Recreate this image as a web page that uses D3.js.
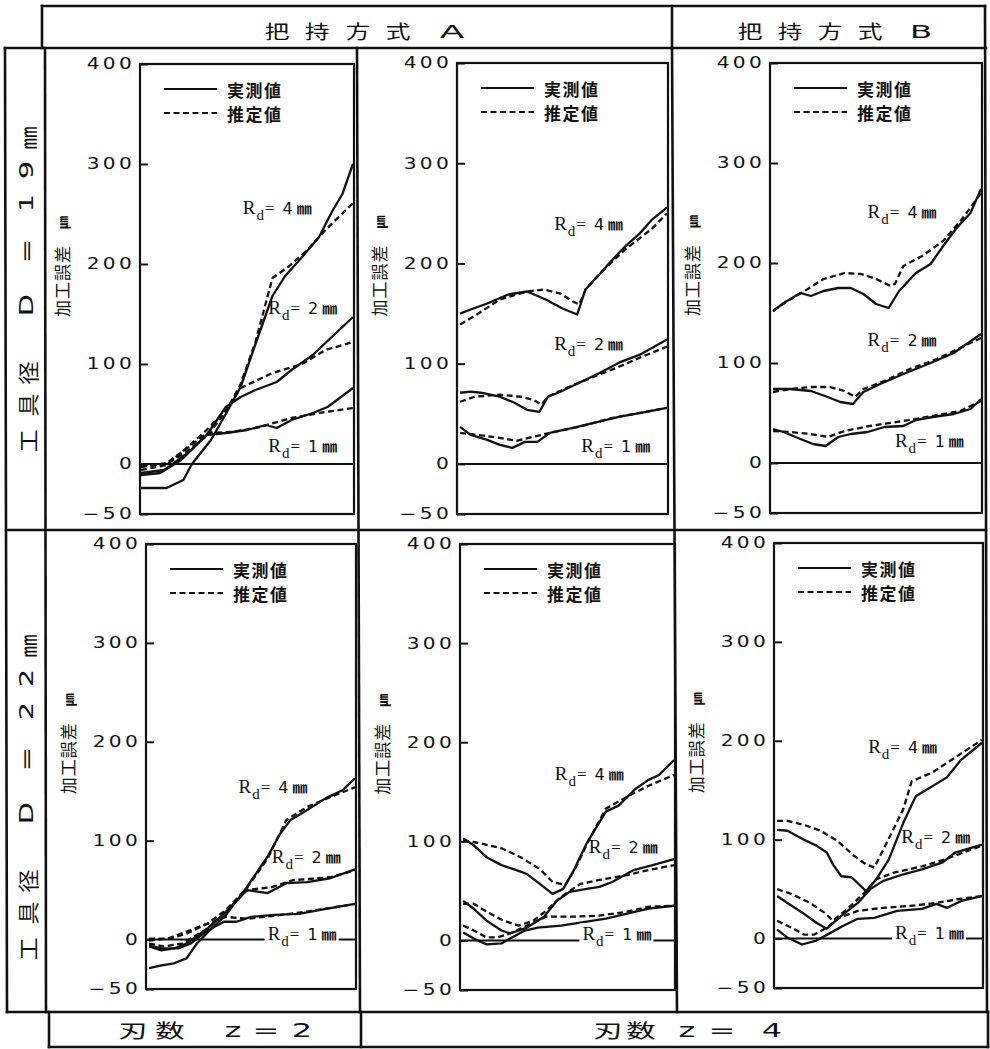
<!DOCTYPE html>
<html lang="ja">
<head>
<meta charset="utf-8">
<title>加工誤差 — 把持方式・工具径・刃数</title>
<script src="https://cdn.jsdelivr.net/npm/d3@7/dist/d3.min.js"></script>
<style>
  html, body { margin: 0; padding: 0; background: #fff; }
  svg { display: block; }
</style>
</head>
<body>
<svg id="chart" width="990" height="1049"></svg>
<script>
// ---------------- data ----------------
// x: position along the cut (0–100 % of the panel), y: 加工誤差 [µm]
const xDomain = [0, 100];
const yDomain = [-50, 400];
const yTicks = [-50, 0, 100, 200, 300, 400];
const rdValues = [4, 2, 1];                 // R_d [mm], order of the curve pairs below
const legendNames = ["実測値", "推定値"];
const yAxisTitle = "加工誤差";
const yAxisUnit = "㎛";
const headChars = [["把", "持", "方", "式", "A"], ["把", "持", "方", "式", "B"]];
const rowChars = [["工", "具", "径", "D", "=", "1", "9", "㎜"], ["工", "具", "径", "D", "=", "2", "2", "㎜"]];
const footChars = [["刃", "数", "z", "=", "2"], ["刃", "数", "z", "=", "4"]];

// 把持方式 A, D = 19 mm, z = 2
const a19z2_r4_meas = [[0,-24],[12,-24],[20,-16],[24,0],[33,24],[40,50],[47,77],[54,120],[62,168],[68,188],[76,207],[84,227],[90,252],[95,270],[100,300]];
const a19z2_r4_est  = [[0,-2],[12,0],[20,10],[31,28],[40,52],[47,80],[54,122],[62,186],[70,198],[78,213],[87,234],[100,261]];
const a19z2_r2_meas = [[0,-11],[9,-9],[19,4],[31,29],[40,57],[47,67],[54,74],[64,82],[71,94],[81,109],[90,127],[100,147]];
const a19z2_r2_est  = [[0,-6],[12,-1],[22,17],[31,34],[40,54],[47,76],[62,91],[76,100],[87,114],[100,122]];
const a19z2_r1_meas = [[0,-9],[11,-6],[22,11],[31,29],[40,31],[50,34],[59,39],[64,36],[71,44],[81,51],[88,57],[100,76]];
const a19z2_r1_est  = [[0,-3],[12,1],[22,16],[31,31],[43,32],[56,37],[71,46],[87,52],[100,56]];

// 把持方式 A, D = 19 mm, z = 4
const a19z4_r4_meas = [[1,150],[6,154],[14,160],[24,169],[33,172],[42,164],[50,155],[57,149],[61,174],[68,190],[74,204],[80,217],[87,230],[93,244],[100,256]];
const a19z4_r4_est  = [[1,139],[9,149],[20,164],[33,172],[41,174],[49,170],[55,162],[58,159],[61,174],[68,190],[80,214],[93,235],[100,250]];
const a19z4_r2_meas = [[1,71],[6,72],[11,71],[20,67],[27,61],[33,54],[39,52],[43,67],[49,72],[58,81],[68,91],[77,101],[87,109],[93,116],[100,124]];
const a19z4_r2_est  = [[1,62],[8,67],[20,69],[30,67],[36,64],[40,59],[43,67],[52,76],[65,87],[76,96],[87,106],[100,117]];
const a19z4_r1_meas = [[1,37],[6,29],[14,24],[20,19],[26,16],[32,22],[38,22],[44,31],[55,36],[65,41],[77,47],[90,52],[100,56]];
const a19z4_r1_est  = [[1,31],[9,29],[20,26],[28,23],[36,27],[46,32],[58,37],[74,46],[90,52],[100,56]];

// 把持方式 B, D = 19 mm, z = 4
const b19z4_r4_meas = [[1,152],[6,160],[14,170],[19,167],[25,172],[32,175],[38,175],[44,169],[50,159],[56,155],[61,172],[69,190],[76,199],[82,217],[88,234],[95,250],[100,274]];
const b19z4_r4_est  = [[1,152],[8,162],[16,172],[25,184],[35,190],[43,189],[50,184],[57,177],[59,179],[63,197],[72,207],[82,222],[91,244],[100,270]];
const b19z4_r2_meas = [[1,74],[9,74],[19,72],[27,66],[33,61],[39,59],[44,71],[52,79],[63,89],[76,100],[87,110],[100,129]];
const b19z4_r2_est  = [[1,71],[9,74],[19,76],[28,76],[35,72],[40,66],[44,74],[54,82],[66,94],[79,104],[90,115],[100,125]];
const b19z4_r1_meas = [[1,34],[6,31],[14,24],[20,19],[26,17],[32,26],[38,29],[46,31],[54,36],[63,37],[69,43],[77,46],[87,49],[95,54],[100,64]];
const b19z4_r1_est  = [[1,32],[9,31],[19,29],[27,26],[35,32],[47,37],[63,42],[77,47],[90,52],[100,62]];

// 把持方式 A, D = 22 mm, z = 2
const a22z2_r4_meas = [[1,-29],[7,-26],[13,-24],[19,-19],[24,-4],[31,11],[38,25],[48,53],[58,84],[64,107],[69,121],[77,131],[86,143],[94,151],[100,163]];
const a22z2_r4_est  = [[1,1],[11,1],[19,6],[29,16],[38,30],[48,52],[58,82],[67,121],[77,134],[88,144],[100,154]];
const a22z2_r2_meas = [[1,-7],[7,-11],[13,-9],[19,-4],[29,11],[38,28],[48,50],[58,47],[67,57],[77,58],[88,62],[100,71]];
const a22z2_r2_est  = [[1,-4],[8,-7],[17,-4],[29,11],[38,28],[48,50],[60,53],[70,60],[88,63],[100,70]];
const a22z2_r1_meas = [[1,-6],[7,-9],[15,-9],[21,-4],[29,9],[37,18],[43,18],[50,23],[61,25],[73,26],[86,31],[100,36]];
const a22z2_r1_est  = [[1,-1],[10,1],[19,8],[29,16],[38,23],[48,21],[61,24],[76,28],[100,36]];

// 把持方式 A, D = 22 mm, z = 4
const a22z4_r4_meas = [[1,103],[6,96],[12,84],[19,76],[26,71],[31,67],[37,57],[43,47],[48,52],[53,71],[59,98],[68,130],[74,136],[82,153],[88,162],[93,167],[100,182]];
const a22z4_r4_est  = [[1,101],[9,98],[19,93],[28,84],[37,72],[43,59],[49,56],[54,74],[60,101],[68,133],[78,145],[87,155],[100,167]];
const a22z4_r2_meas = [[1,40],[6,32],[12,20],[19,10],[23,7],[31,13],[39,24],[45,40],[51,49],[59,52],[65,54],[71,59],[81,71],[90,76],[100,82]];
const a22z4_r2_est  = [[1,37],[6,37],[12,29],[20,20],[27,15],[34,20],[40,30],[47,44],[56,57],[65,61],[78,66],[88,71],[100,76]];
const a22z4_r1_meas = [[1,8],[6,2],[12,-4],[19,-3],[23,2],[30,10],[36,13],[47,15],[59,19],[68,22],[78,27],[88,32],[100,35]];
const a22z4_r1_est  = [[1,15],[6,10],[12,3],[17,3],[23,7],[31,15],[40,24],[53,24],[65,25],[78,29],[88,34],[100,35]];

// 把持方式 B, D = 22 mm, z = 4
const b22z4_r4_meas = [[1,110],[6,109],[14,100],[20,94],[25,87],[28,75],[32,63],[37,62],[44,48],[49,60],[55,80],[62,117],[68,144],[76,154],[83,163],[90,181],[100,198]];
const b22z4_r4_est  = [[1,119],[6,119],[14,115],[22,109],[30,99],[38,84],[44,75],[48,72],[54,97],[62,131],[66,159],[76,168],[87,183],[100,201]];
const b22z4_r2_meas = [[1,43],[6,36],[14,25],[20,16],[25,10],[32,23],[40,36],[46,50],[52,58],[62,65],[71,70],[81,77],[87,87],[100,95]];
const b22z4_r2_est  = [[1,50],[8,45],[17,36],[24,26],[28,18],[35,30],[43,46],[49,60],[58,67],[71,73],[82,80],[100,94]];
const b22z4_r1_meas = [[1,9],[6,1],[13,-6],[20,-2],[27,6],[33,13],[40,20],[48,21],[59,28],[71,30],[78,35],[83,31],[90,38],[100,43]];
const b22z4_r1_est  = [[1,18],[8,11],[14,4],[19,4],[25,11],[31,21],[40,28],[52,31],[65,33],[78,36],[89,40],[100,43]];

// ---------------- layout ----------------
const ink = "#111";
const cjk = "'Noto Sans CJK JP', 'Noto Sans CJK SC', sans-serif";
const latin = "'DejaVu Sans', sans-serif";
const serif = "'Liberation Serif', 'DejaVu Serif', serif";

// plot boxes [left, top, right, bottom]
const panelBoxes = [
  [140, 64, 354, 514], [457, 63, 668, 514], [770, 63, 982, 513],
  [146, 544, 356, 989], [460, 544, 675, 990], [774, 543, 983, 988]
];
// R_d label anchors [x %, y value] in the order of rdValues
const labelAnchors = [
  [[48, 250], [60, 150], [60, 12]],
  [[46, 233], [46, 114], [59, 12]],
  [[46, 245], [46, 117], [59, 16]],
  [[44, 148], [60, 77], [58, 0]],
  [[44, 162], [60, 88], [57, 0]],
  [[45, 188], [61, 97], [58, 0]]
];

const panels = [
  { box: panelBoxes[0], pairs: [[a19z2_r4_meas, a19z2_r4_est], [a19z2_r2_meas, a19z2_r2_est], [a19z2_r1_meas, a19z2_r1_est]], labels: labelAnchors[0], row: 0 },
  { box: panelBoxes[1], pairs: [[a19z4_r4_meas, a19z4_r4_est], [a19z4_r2_meas, a19z4_r2_est], [a19z4_r1_meas, a19z4_r1_est]], labels: labelAnchors[1], row: 0 },
  { box: panelBoxes[2], pairs: [[b19z4_r4_meas, b19z4_r4_est], [b19z4_r2_meas, b19z4_r2_est], [b19z4_r1_meas, b19z4_r1_est]], labels: labelAnchors[2], row: 0 },
  { box: panelBoxes[3], pairs: [[a22z2_r4_meas, a22z2_r4_est], [a22z2_r2_meas, a22z2_r2_est], [a22z2_r1_meas, a22z2_r1_est]], labels: labelAnchors[3], row: 1 },
  { box: panelBoxes[4], pairs: [[a22z4_r4_meas, a22z4_r4_est], [a22z4_r2_meas, a22z4_r2_est], [a22z4_r1_meas, a22z4_r1_est]], labels: labelAnchors[4], row: 1 },
  { box: panelBoxes[5], pairs: [[b22z4_r4_meas, b22z4_r4_est], [b22z4_r2_meas, b22z4_r2_est], [b22z4_r1_meas, b22z4_r1_est]], labels: labelAnchors[5], row: 1 }
];

const svg = d3.select("#chart");
svg.append("rect").attr("width", 990).attr("height", 1049).attr("fill", "#fff");
const defs = svg.append("defs");

const isCjk = c => /[\u3000-\u9fff\u3300-\u33ff]/.test(c);

// one glyph per text element, centred on (cx, cy) and optionally stretched
function glyphs(parent, chars, centers, cy, opt) {
  chars.forEach((c, i) => {
    const cj = isCjk(c);
    const sx = cj ? opt.cjkScale : opt.latinScale;
    const t = parent.append("text")
      .attr("transform", `translate(${centers[i]},${cy}) scale(${sx},1)`)
      .attr("text-anchor", "middle")
      .attr("font-family", cj ? cjk : latin)
      .attr("font-size", cj ? opt.cjkSize : opt.latinSize)
      .attr("fill", ink)
      .text(c);
    if (cj) t.attr("dominant-baseline", "central");
    else t.attr("dy", opt.latinDy || "0.36em");
  });
}

// ---------------- frame ----------------
const frame = svg.append("g").attr("fill", "none").attr("stroke", ink).attr("stroke-width", 2.6).attr("stroke-linecap", "square");
const seg = (x1, y1, x2, y2) => frame.append("line").attr("x1", x1).attr("y1", y1).attr("x2", x2).attr("y2", y2);
seg(42, 6, 985, 6);          // header top
seg(42, 6, 42, 48);
seg(672, 6, 672, 48);        // A | B
seg(5, 48, 986, 48);         // header bottom / grid top
seg(6, 530, 986, 530);       // row divider
seg(7, 1012, 988, 1012);     // grid bottom
seg(5, 48, 7, 1012);         // outer left
seg(45, 48, 46, 1012);       // row-title column
seg(357, 48, 360, 1012);     // column 1 | 2
seg(672, 48, 677, 1012);     // column 2 | 3
seg(985, 6, 987, 1012);      // outer right
seg(49, 1012, 49, 1047);     // foot row
seg(361, 1012, 361, 1047);
seg(988, 1012, 988, 1047);
seg(49, 1047, 988, 1047);

// ---------------- headings ----------------
glyphs(svg, headChars[0], [277, 317, 358, 398, 452], 30, { cjkSize: 19, cjkScale: 1.3, latinSize: 18, latinScale: 2.0, latinDy: "0.42em" });
glyphs(svg, headChars[1], [750, 790, 830, 870, 921], 30, { cjkSize: 19, cjkScale: 1.3, latinSize: 18, latinScale: 1.8, latinDy: "0.42em" });

const rowCenters = [441, 405, 373, 305, 251, 203, 170, 138];
[0, 508].forEach((off, r) => {
  const g = svg.append("g").attr("transform", "translate(26,0) rotate(-90)");
  glyphs(g, rowChars[r], rowCenters.map(v => -(v + off)), 0, { cjkSize: 21, cjkScale: 1.1, latinSize: 20, latinScale: 1.45 });
});

glyphs(svg, footChars[0], [133, 170, 233, 266, 302], 1030, { cjkSize: 19, cjkScale: 1.55, latinSize: 20, latinScale: 1.6 });
glyphs(svg, footChars[1], [608, 641, 687, 722, 772], 1030, { cjkSize: 19, cjkScale: 1.55, latinSize: 20, latinScale: 1.6 });

// ---------------- panels ----------------
panels.forEach((p, i) => {
  const [x0, y0, x1, y1] = p.box;
  const x = d3.scaleLinear().domain(xDomain).range([x0 + 1, x1 - 1]);
  const y = d3.scaleLinear().domain(yDomain).range([y1, y0]);
  const g = svg.append("g");

  defs.append("clipPath").attr("id", "clip" + i)
    .append("rect").attr("x", x0).attr("y", y0).attr("width", x1 - x0).attr("height", y1 - y0);

  // y axis: inward ticks, wide digits
  const axis = d3.axisLeft(y).tickValues(yTicks).tickSize(-8).tickPadding(0)
    .tickFormat(v => v < 0 ? "\u2212" + Math.abs(v) : String(v));
  const ag = g.append("g").attr("transform", `translate(${x0},0)`).call(axis);
  ag.select(".domain").remove();
  ag.selectAll(".tick line").attr("stroke", ink).attr("stroke-width", 2);
  ag.selectAll(".tick text")
    .attr("x", -5 / 1.3)
    .attr("transform", "scale(1.3,1)")
    .attr("font-family", latin).attr("font-size", 15.5)
    .attr("letter-spacing", 2.5)
    .attr("fill", ink);

  // axis title
  const ty = y(147);
  const tt = g.append("text")
    .attr("transform", `translate(${x0 - 79},${ty}) rotate(-90)`)
    .attr("dominant-baseline", "central")
    .attr("font-family", cjk).attr("font-size", 17).attr("fill", ink)
    .attr("letter-spacing", 1);
  tt.append("tspan").text(yAxisTitle);
  tt.append("tspan").attr("dx", 16).attr("font-size", 13).attr("font-weight", "bold").text(yAxisUnit);

  // zero line
  g.append("line").attr("x1", x0).attr("x2", x1).attr("y1", y(0)).attr("y2", y(0))
    .attr("stroke", ink).attr("stroke-width", 2);

  // curves
  const line = d3.line().x(d => x(d[0])).y(d => y(d[1]));
  const curves = g.append("g").attr("clip-path", `url(#clip${i})`)
    .attr("fill", "none").attr("stroke", ink).attr("stroke-width", 2.3)
    .attr("stroke-linejoin", "round");
  p.pairs.forEach(([meas, est]) => {
    curves.append("path").attr("d", line(meas));
    curves.append("path").attr("d", line(est)).attr("stroke-dasharray", "6,3.5");
  });

  // R_d labels
  p.pairs.forEach((_, k) => {
    const [lx, lv] = p.labels[k];
    const t = g.append("text").attr("x", x(lx)).attr("y", y(lv))
      .attr("font-family", latin).attr("font-size", 16).attr("fill", ink);
    t.append("tspan").attr("font-family", serif).attr("font-size", 19).text("R");
    t.append("tspan").attr("font-family", serif).attr("font-size", 15).attr("dy", 6).attr("dx", 1).text("d");
    t.append("tspan").attr("dy", -6).attr("dx", 1).attr("font-family", serif).attr("font-size", 17).text("=");
    t.append("tspan").attr("dx", 8).text(String(rdValues[k]));
    t.append("tspan").attr("dx", 4).attr("font-family", cjk).attr("font-weight", "bold").attr("font-size", 15).text("㎜");
    if (p.row === 1 && rdValues[k] === 1) {
      const b = t.node().getBBox();
      g.insert("rect", () => t.node())
        .attr("x", b.x - 3).attr("y", b.y).attr("width", b.width + 5).attr("height", b.height)
        .attr("fill", "#fff");
    }
  });

  // legend
  const lg = g.append("g");
  legendNames.forEach((name, k) => {
    const ly = y0 + 25 + k * 24;
    lg.append("line").attr("x1", x0 + 24).attr("x2", x0 + 77).attr("y1", ly).attr("y2", ly)
      .attr("stroke", ink).attr("stroke-width", 2.2)
      .attr("stroke-dasharray", k === 1 ? "6,3.5" : null);
    lg.append("text").attr("x", x0 + 87).attr("y", ly).attr("dominant-baseline", "central")
      .attr("font-family", cjk).attr("font-weight", "bold").attr("font-size", 17)
      .attr("letter-spacing", 1.5).attr("fill", ink).text(name);
  });

  // plot box
  g.append("rect").attr("x", x0).attr("y", y0).attr("width", x1 - x0).attr("height", y1 - y0)
    .attr("fill", "none").attr("stroke", ink).attr("stroke-width", 2.2);
});
</script>
</body>
</html>
